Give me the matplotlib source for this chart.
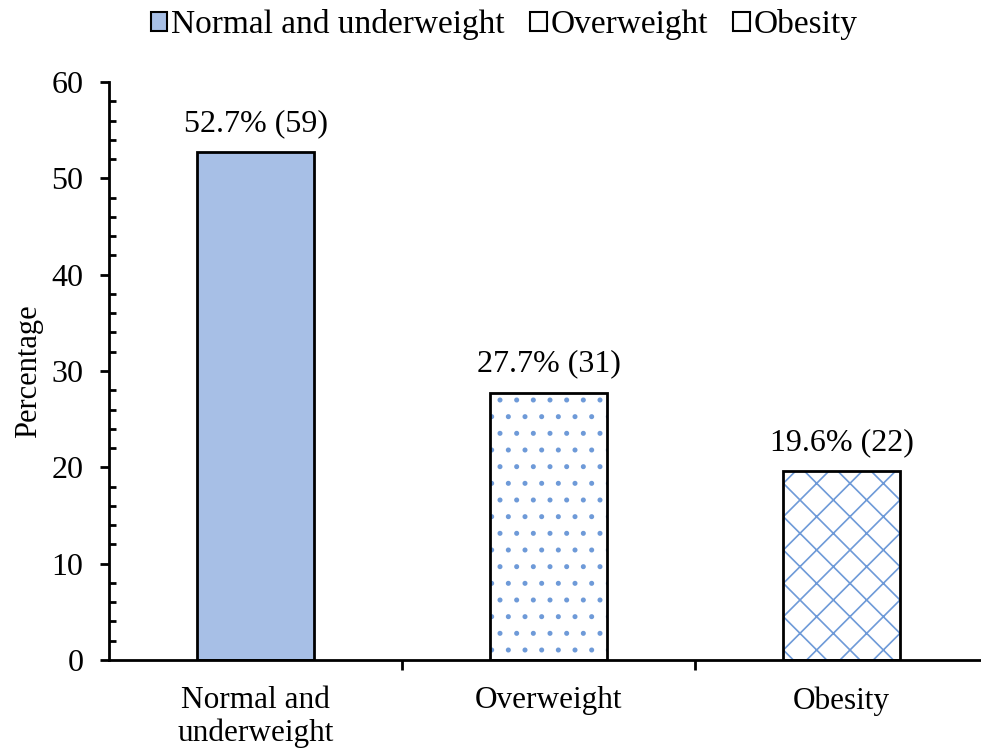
import matplotlib
matplotlib.use("Agg")
import matplotlib.pyplot as plt
from matplotlib.patches import Patch
from matplotlib.ticker import MultipleLocator, FixedLocator

categories = ["Normal and\nunderweight", "Overweight", "Obesity"]
legend_names = ["Normal and underweight", "Overweight", "Obesity"]
percentages = [52.7, 27.7, 19.6]
counts = [59, 31, 22]

plt.rcParams['font.family'] = ['Liberation Serif', 'DejaVu Serif']
plt.rcParams['hatch.linewidth'] = 1.2

blue = '#6E9AD8'
fills = ['#A7BFE6', 'white', 'white']
hatches = [None, '.', 'x']

fig = plt.figure(figsize=(9.81, 7.49), dpi=100)
ax = fig.add_axes([109/981, 89/749, 879/981, 578/749])

x = list(range(len(categories)))
width = 0.4
# patterned fills
for i in x:
    ax.bar(i, percentages[i], width=width, color=fills[i],
           hatch=hatches[i], edgecolor=blue if hatches[i] else fills[i],
           linewidth=0, zorder=2)
# outlines
ax.bar(x, percentages, width=width, facecolor='none', edgecolor='black',
       linewidth=2.0, zorder=3)

for i, (p, c) in enumerate(zip(percentages, counts)):
    ax.text(i, p + 1.5, f"{p}% ({c})", ha='center', va='bottom', fontsize=23)

ax.set_xlim(-0.5, 2.5)
ax.set_ylim(0, 60)
ax.yaxis.set_major_locator(MultipleLocator(10))
ax.yaxis.set_minor_locator(MultipleLocator(2))
ax.tick_params(axis='y', which='major', direction='out', length=6.5, width=2,
               labelsize=23, pad=12)
ax.tick_params(axis='y', which='minor', direction='in', length=5, width=2)

ax.set_xticks(x)
ax.set_xticklabels(categories, fontsize=22.5, linespacing=1.15)
ax.xaxis.set_minor_locator(FixedLocator([0.5, 1.5]))
ax.tick_params(axis='x', which='major', length=0, pad=19)
ax.tick_params(axis='x', which='minor', direction='out', length=7, width=2)

for s in ['top', 'right']:
    ax.spines[s].set_visible(False)
for s in ['left', 'bottom']:
    ax.spines[s].set_linewidth(2)

ax.set_ylabel("Percentage", fontsize=22, labelpad=6)

handles = [Patch(facecolor=fills[i], edgecolor='black', linewidth=1.5)
           for i in range(3)]
fig.legend(handles, legend_names, loc='upper center', ncol=3,
           bbox_to_anchor=(0.514, 1.028), frameon=False, fontsize=24,
           handlelength=0.5, handleheight=0.5, handletextpad=0.12,
           columnspacing=0.75)

fig.savefig("out.png", dpi=100)
